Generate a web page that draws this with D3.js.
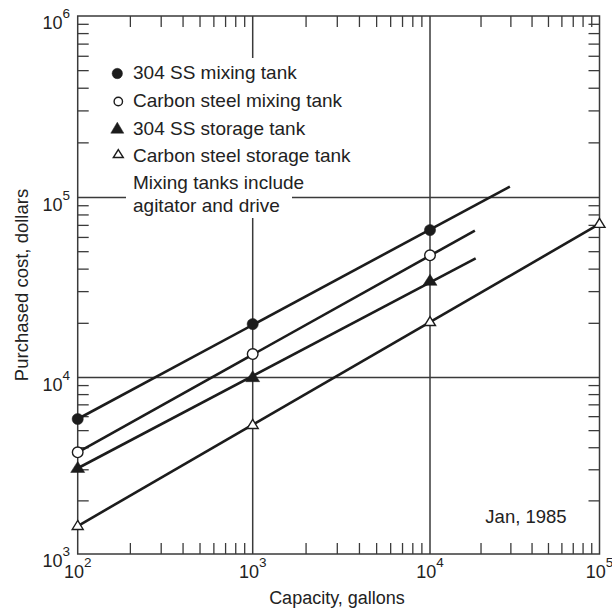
<!DOCTYPE html>
<html>
<head>
<meta charset="utf-8">
<script src="https://cdn.jsdelivr.net/npm/d3@7"></script>
<style>
  html, body { margin: 0; padding: 0; background: #fff; }
  svg { display: block; font-family: "Liberation Sans", Arial, Helvetica, sans-serif; }
</style>
</head>
<body>
<svg id="chart" width="612" height="609"></svg>
<script>
// ---------- data ----------
const capacities = [100, 1000, 10000];
const ssMixingCost   = [5820, 19800, 65900];
const csMixingCost   = [3770, 13500, 47700];
const ssStorageCost  = [3060, 10000, 34300];
const csStorageCap   = [100, 1000, 10000, 100000];
const csStorageCost  = [1440, 5380, 20300, 71300];
// fitted lines extend beyond the last marker
const ssMixingEnd  = [29600, 114800];
const csMixingEnd  = [18400, 65500];
const ssStorageEnd = [18600, 45900];

const xDecades = [1e2, 1e3, 1e4, 1e5];
const yDecades = [1e3, 1e4, 1e5, 1e6];
const xTickExp = ["2", "3", "4", "5"];
const yTickExp = ["3", "4", "5", "6"];

const legendLabels = ["304 SS mixing tank", "Carbon steel mixing tank", "304 SS storage tank", "Carbon steel storage tank"];
const noteLines = ["Mixing tanks include", "agitator and drive"];
const dateNote = "Jan, 1985";
const xTitle = "Capacity, gallons";
const yTitle = "Purchased cost, dollars";

// ---------- scales ----------
const x = d3.scaleLog().domain(xDecades).range([77.7, 252.7, 430, 599.5]);
const y = d3.scaleLog().domain(yDecades).range([554, 377.5, 197.5, 16]);

const svg = d3.select("#chart");
const L = x(1e2), R = x(1e5), T = y(1e6), B = y(1e3);
const ink = "#1c1c1c", gridc = "#3a3a3a";

// minor ticks (inward on all four sides)
const minors = (lo, hi) => {
  const out = [];
  for (let d = lo; d < hi; d *= 10) for (let k = 2; k <= 9; k++) out.push(d * k);
  return out;
};
const tl = 11;
const tg = svg.append("g").attr("stroke", gridc).attr("stroke-width", 1.3);
minors(1e2, 1e5).forEach(v => {
  tg.append("line").attr("x1", x(v)).attr("x2", x(v)).attr("y1", B).attr("y2", B - tl);
  tg.append("line").attr("x1", x(v)).attr("x2", x(v)).attr("y1", T).attr("y2", T + tl);
});
minors(1e3, 1e6).forEach(v => {
  tg.append("line").attr("y1", y(v)).attr("y2", y(v)).attr("x1", L).attr("x2", L + tl);
  tg.append("line").attr("y1", y(v)).attr("y2", y(v)).attr("x1", R).attr("x2", R - tl);
});

// grid lines at inner decades
const gg = svg.append("g").attr("stroke", gridc).attr("stroke-width", 1.5);
[1e3, 1e4].forEach(v => gg.append("line").attr("x1", x(v)).attr("x2", x(v)).attr("y1", T).attr("y2", B));
[1e4, 1e5].forEach(v => gg.append("line").attr("y1", y(v)).attr("y2", y(v)).attr("x1", L).attr("x2", R));

// frame
svg.append("rect").attr("x", L).attr("y", T).attr("width", R - L).attr("height", B - T)
  .attr("fill", "none").attr("stroke", gridc).attr("stroke-width", 1.5);

// legend background (masks grid lines)
svg.append("rect").attr("x", 126).attr("y", 58).attr("width", 166).attr("height", 160).attr("fill", "#fff");

// tick labels
function powLabel(g, base, exp, fs, sfs) {
  g.append("tspan").text(base).attr("font-size", fs);
  g.append("tspan").text(exp).attr("font-size", sfs).attr("dy", -11);
}
const xl = svg.append("g").attr("fill", "#222");
xDecades.forEach((v, i) => {
  const t = xl.append("text").attr("x", x(v)).attr("y", 578).attr("text-anchor", "middle");
  powLabel(t, "10", xTickExp[i], 18, 13.5);
});
yDecades.forEach((v, i) => {
  const t = xl.append("text").attr("x", 70).attr("y", y(v) + 13).attr("text-anchor", "end");
  powLabel(t, "10", yTickExp[i], 18, 13.5);
});
// fix bottom y label position (sits just above x label)
// axis titles
svg.append("text").attr("x", 337).attr("y", 604).attr("text-anchor", "middle")
  .attr("font-size", 18).attr("fill", "#222").text(xTitle);
svg.append("text").attr("transform", "translate(28,285) rotate(-90)").attr("text-anchor", "middle")
  .attr("font-size", 18.5).attr("fill", "#222").text(yTitle);

// series lines
const line = d3.line().x(d => x(d[0])).y(d => y(d[1]));
const lg = svg.append("g").attr("fill", "none").attr("stroke", ink).attr("stroke-width", 2.6);
lg.append("path").attr("d", line([[capacities[0], ssMixingCost[0]], ssMixingEnd]));
lg.append("path").attr("d", line([[capacities[0], csMixingCost[0]], csMixingEnd]));
lg.append("path").attr("d", line([[capacities[0], ssStorageCost[0]], ssStorageEnd]));
lg.append("path").attr("d", line([[csStorageCap[0], csStorageCost[0]], [csStorageCap[3], csStorageCost[3]]]));

// markers
const tri = (w, h) => `M0,${-h * 0.62}L${w / 2},${h * 0.38}L${-w / 2},${h * 0.38}Z`;
const mg = svg.append("g");
function circ(cx, cy, r, filled) {
  mg.append("circle").attr("cx", cx).attr("cy", cy).attr("r", r)
    .attr("fill", filled ? ink : "#fff").attr("stroke", ink).attr("stroke-width", filled ? 0.5 : 1.4);
}
function triangle(cx, cy, w, h, filled) {
  mg.append("path").attr("d", tri(w, h)).attr("transform", `translate(${cx},${cy})`)
    .attr("fill", filled ? ink : "#fff").attr("stroke", ink).attr("stroke-width", filled ? 0.5 : 1.4)
    .attr("stroke-linejoin", "miter");
}
capacities.forEach((c, i) => circ(x(c), y(ssMixingCost[i]), 5.6, true));
capacities.forEach((c, i) => circ(x(c), y(csMixingCost[i]), 5.3, false));
capacities.forEach((c, i) => triangle(x(c), y(ssStorageCost[i]), 14, 11, true));
csStorageCap.forEach((c, i) => triangle(x(c), y(csStorageCost[i]), 11, 9, false));

// legend
const legY = [79, 106.5, 134.5, 162];
const lt = svg.append("g").attr("font-size", 19).attr("fill", "#222");
legendLabels.forEach((s, i) => lt.append("text").attr("x", 133).attr("y", legY[i]).text(s));
noteLines.forEach((s, i) => lt.append("text").attr("x", 133).attr("y", [189, 212][i]).text(s));
circ(117.3, 73.5, 5.2, true);
circ(118.3, 101.5, 4.2, false);
triangle(117.3, 129, 13, 11, true);
triangle(118.3, 154.5, 10, 8, false);

// date note
svg.append("text").attr("x", 526).attr("y", 523).attr("text-anchor", "middle")
  .attr("font-size", 18.5).attr("fill", "#222").text(dateNote);
</script>
</body>
</html>
